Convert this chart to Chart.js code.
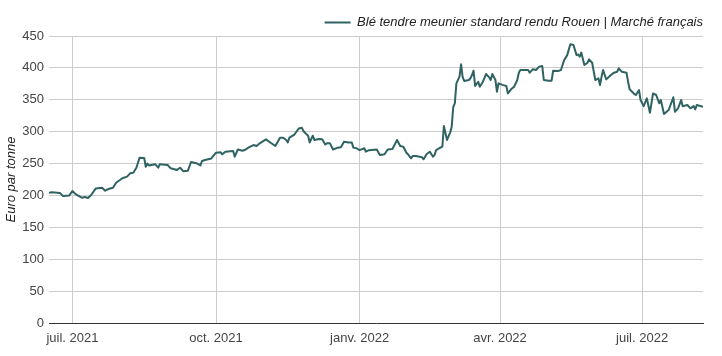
<!DOCTYPE html>
<html>
<head>
<meta charset="utf-8">
<script src="https://cdn.jsdelivr.net/npm/chart.js@4"></script>
<style>
  html, body { margin: 0; padding: 0; background: #ffffff; }
  #wrap { width: 722px; height: 356px; }
</style>
</head>
<body>
<div id="wrap"><canvas id="c" width="722" height="356"></canvas></div>
<script>
const seriesLabel = "Blé tendre meunier standard rendu Rouen | Marché français";
const yAxisTitle = "Euro par tonne";

const dates = [
  "2021-06-16","2021-06-18","2021-06-23","2021-06-25","2021-06-29","2021-07-01","2021-07-03","2021-07-07","2021-07-09","2021-07-11",
  "2021-07-13","2021-07-16","2021-07-20","2021-07-22","2021-07-24","2021-07-27","2021-07-29","2021-08-02","2021-08-05","2021-08-07",
  "2021-08-09","2021-08-11","2021-08-13","2021-08-16","2021-08-17","2021-08-18","2021-08-19","2021-08-23","2021-08-25","2021-08-26",
  "2021-08-31","2021-09-02","2021-09-06","2021-09-08","2021-09-10","2021-09-13","2021-09-15","2021-09-19","2021-09-21","2021-09-22",
  "2021-09-24","2021-09-28","2021-10-01","2021-10-04","2021-10-05","2021-10-07","2021-10-12","2021-10-13","2021-10-15","2021-10-18",
  "2021-10-20","2021-10-22","2021-10-25","2021-10-27","2021-10-29","2021-11-02","2021-11-05","2021-11-08","2021-11-11","2021-11-13",
  "2021-11-15","2021-11-16","2021-11-17","2021-11-20","2021-11-23","2021-11-25","2021-11-26","2021-11-28","2021-11-29","2021-11-30",
  "2021-12-02","2021-12-03","2021-12-06","2021-12-08","2021-12-10","2021-12-11","2021-12-13","2021-12-15","2021-12-18","2021-12-20",
  "2021-12-22","2021-12-25","2021-12-27","2021-12-28","2021-12-30","2022-01-01","2022-01-04","2022-01-05","2022-01-07","2022-01-12",
  "2022-01-14","2022-01-17","2022-01-19","2022-01-22","2022-01-25","2022-01-27","2022-01-29","2022-01-31","2022-02-01","2022-02-03",
  "2022-02-04","2022-02-06","2022-02-10","2022-02-11","2022-02-13","2022-02-15","2022-02-17","2022-02-18","2022-02-19","2022-02-21",
  "2022-02-23","2022-02-24","2022-02-26","2022-02-28","2022-03-01","2022-03-02","2022-03-03","2022-03-04","2022-03-06","2022-03-07",
  "2022-03-08","2022-03-09","2022-03-12","2022-03-13","2022-03-14","2022-03-15","2022-03-16","2022-03-18","2022-03-19","2022-03-21",
  "2022-03-23","2022-03-25","2022-03-26","2022-03-27","2022-03-29","2022-03-30","2022-03-31","2022-04-03","2022-04-05","2022-04-06",
  "2022-04-08","2022-04-10","2022-04-12","2022-04-13","2022-04-14","2022-04-19","2022-04-20","2022-04-22","2022-04-24","2022-04-26",
  "2022-04-28","2022-04-29","2022-05-02","2022-05-04","2022-05-05","2022-05-08","2022-05-10","2022-05-12","2022-05-14","2022-05-16",
  "2022-05-18","2022-05-20","2022-05-21","2022-05-22","2022-05-23","2022-05-25","2022-05-27","2022-05-28","2022-05-30","2022-06-01",
  "2022-06-03","2022-06-04","2022-06-05","2022-06-06","2022-06-08","2022-06-11","2022-06-13","2022-06-15","2022-06-16","2022-06-18",
  "2022-06-21","2022-06-22","2022-06-23","2022-06-26","2022-06-27","2022-06-29","2022-06-30","2022-07-02","2022-07-04","2022-07-06",
  "2022-07-08","2022-07-10","2022-07-12","2022-07-13","2022-07-15","2022-07-18","2022-07-21","2022-07-22","2022-07-24","2022-07-26",
  "2022-07-27","2022-07-30","2022-08-01","2022-08-03","2022-08-04","2022-08-05","2022-08-09"
];

const prices = [
  204,205,204,199,200,207,202,196.5,197.5,196,
  200.7,211,212,207.5,210,212,220,227,229.5,234.7,
  235.7,243.5,259,258.7,245,250,247,249,243.5,249,
  247.7,242.5,240,243.5,238,238.8,252.4,250,247,254,
  255.6,258,267,267.6,264.5,268.6,269.7,260.8,272,270,
  272,275.4,279,277.5,281.7,288,282.7,277.5,290.5,290.5,
  287,283,290.5,294.8,305,306,301,295.8,293.7,283,
  293.7,287,288.5,288,280,281.7,281.7,272,274.9,275.4,
  284.3,283,283,275,274,271,274,268.6,271,272,
  263.5,264.5,272,272.8,287,277.5,276.4,267,264.5,258.2,
  261.8,261.8,259.8,256.7,265,268.6,260.8,263.4,271,274,
  276.4,309,287,298.5,307.8,339,344.5,375.8,386.2,405.6,
  386,379.4,381,383.7,388.8,395.6,371.6,378.3,370.5,378.3,
  390.4,385.2,381,390.4,381,362.6,375.8,373,371.6,360,
  366.4,370.5,381,392.5,396.7,396.7,392.5,397.8,396.7,402,
  403,381,380,380,395.6,395,396.7,412,420,437,
  436,420,421,417.5,424,404.5,408,413.4,408,381,
  383.7,373,386,396.7,382,388.8,392.5,394,399.3,394,
  392.5,378.3,366.4,359,357.5,365.3,349.6,340,352.3,329.7,
  360,357.5,344.5,349.6,327.7,334,353.9,331.3,336.6,349.6,
  340,341.8,336.6,340,335,341.8,339
];

const tickDates = ["2021-07-01","2021-10-01","2022-01-01","2022-04-01","2022-07-01"];
const tickLabels = ["juil. 2021","oct. 2021","janv. 2022","avr. 2022","juil. 2022"];
const rangeStart = "2021-06-16";
const rangeEnd = "2022-08-09";

const DAY = 86400000;
const origin = Date.parse("2021-07-01");
const toDay = d => Math.round((Date.parse(d) - origin) / DAY);

const points = dates.map((d, i) => ({ x: toDay(d), y: prices[i] }));
const tickDays = tickDates.map(toDay);

const lineColor = "#2f6362";
const FONT = "'Liberation Sans', Arial, sans-serif";

new Chart(document.getElementById("c"), {
  type: "line",
  data: {
    datasets: [{
      label: seriesLabel,
      data: points,
      borderColor: lineColor,
      backgroundColor: lineColor,
      borderWidth: 2,
      pointRadius: 0,
      pointHoverRadius: 0,
      tension: 0,
      fill: false,
      borderJoinStyle: "round"
    }]
  },
  options: {
    responsive: false,
    animation: false,
    parsing: true,
    layout: { padding: { top: 16, right: 19, left: 0, bottom: 0 } },
    plugins: {
      tooltip: { enabled: false },
      legend: {
        display: true,
        position: "top",
        align: "end",
        maxHeight: 20,
        labels: {
          usePointStyle: true,
          pointStyle: "line",
          pointStyleWidth: 26,
          padding: 0,
          color: "#222222",
          font: { family: FONT, size: 13, style: "italic" }
        }
      }
    },
    scales: {
      x: {
        type: "linear",
        min: toDay(rangeStart),
        max: toDay(rangeEnd),
        afterBuildTicks: s => { s.ticks = tickDays.map(v => ({ value: v })); },
        afterFit: s => { s.height = 33; },
        grid: { color: "#cccccc", lineWidth: 1, drawTicks: false },
        border: { display: true, color: "#333333", width: 1 },
        ticks: {
          autoSkip: false,
          maxRotation: 0,
          padding: 8,
          color: "#444444",
          font: { family: FONT, size: 13 },
          callback: (v, i) => tickLabels[i]
        }
      },
      y: {
        min: 0,
        max: 450,
        afterFit: s => { s.width = 49; },
        grid: { color: "#cccccc", lineWidth: 1, drawTicks: false },
        border: { display: false },
        ticks: {
          stepSize: 50,
          padding: 5,
          color: "#444444",
          font: { family: FONT, size: 13 }
        },
        title: {
          display: true,
          text: yAxisTitle,
          color: "#222222",
          padding: { top: 4, bottom: 0 },
          font: { family: FONT, size: 13, style: "italic" }
        }
      }
    }
  }
});
</script>
</body>
</html>
